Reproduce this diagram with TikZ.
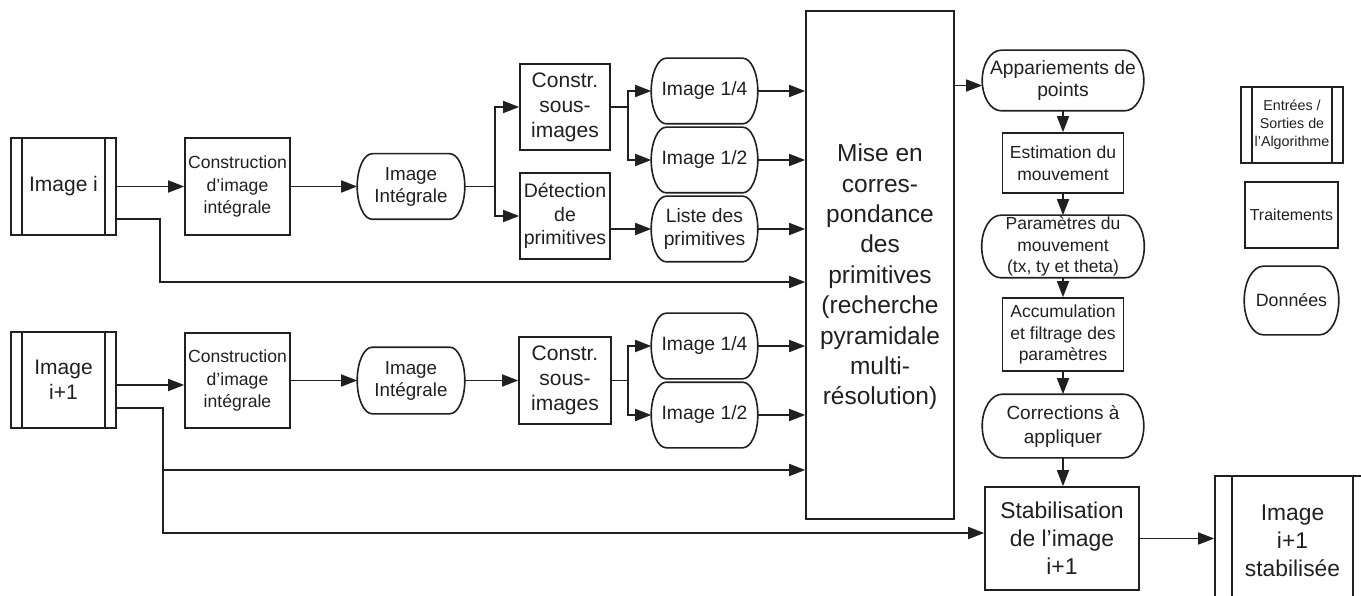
\documentclass[tikz,border=0pt]{standalone}
\usepackage{fontspec}
\setmainfont{Liberation Sans}
\usetikzlibrary{arrows.meta,calc}
\newcommand\fs[2]{\fontsize{#1}{#2}\selectfont}
\definecolor{ink}{HTML}{202020}
\tikzset{
  base/.style={draw=ink, text=ink, line width=1.6pt, inner sep=0pt, align=center},
  proc/.style={base, rectangle},
  data/.style={base, draw=none, rectangle},
  io/.style={base, rectangle,
    path picture={\draw[ink, line width=1.6pt]
      ([xshift=#1]path picture bounding box.north west) -- ([xshift=#1]path picture bounding box.south west)
      ([xshift=-#1]path picture bounding box.north east) -- ([xshift=-#1]path picture bounding box.south east);}},
  io/.default=11pt,
  ln/.style={draw=ink, line width=1.6pt},
  arr/.style={ln, -{Triangle[length=16pt,width=12pt]}},
}
\begin{document}
\begin{tikzpicture}[x=1pt,y=-1pt]
\useasboundingbox (0,0) rectangle (1361,596);
\clip (0,0) rectangle (1361,596);

% top row
\node[io, minimum width=105pt, minimum height=97pt, font=\fs{21}{25}] (imgi) at (63.5,186.5) {Image i};
\node[proc, minimum width=105pt, minimum height=97pt, font=\fs{17.6}{22.5}] (cons1) at (237.5,186.5) {Construction\\d'image\\intégrale};
\node[data, minimum width=106pt, minimum height=64pt, font=\fs{18.8}{22}] (ii1) at (411,186.5) {Image\\Intégrale};
\node[proc, minimum width=90pt, minimum height=86pt, font=\fs{21}{25}] (csi1) at (565,107) {Constr.\\sous-\\images};
\node[proc, minimum width=90pt, minimum height=86pt, font=\fs{19.5}{23.5}] (det) at (565,216) {Détection\\de\\primitives};
\node[data, minimum width=105pt, minimum height=64pt, font=\fs{19.3}{23}] (i14a) at (704.5,91) {Image 1/4};
\node[data, minimum width=105pt, minimum height=64pt, font=\fs{19.3}{23}] (i12a) at (704.5,160) {Image 1/2};
\node[data, minimum width=105pt, minimum height=64pt, font=\fs{19.3}{23}] (liste) at (704.5,229) {Liste des\\primitives};

% bottom row
\node[io, minimum width=105pt, minimum height=96pt, font=\fs{21}{25}] (imgi1) at (63.5,380) {Image\\i+1};
\node[proc, minimum width=105pt, minimum height=95pt, font=\fs{17.6}{22.5}] (cons2) at (237.5,380.5) {Construction\\d'image\\intégrale};
\node[data, minimum width=106pt, minimum height=65pt, font=\fs{18.8}{22}] (ii2) at (411,380.5) {Image\\Intégrale};
\node[proc, minimum width=92pt, minimum height=87pt, font=\fs{21}{25}] (csi2) at (565,380.5) {Constr.\\sous-\\images};
\node[data, minimum width=105pt, minimum height=64pt, font=\fs{19.3}{23}] (i14b) at (704.5,346) {Image 1/4};
\node[data, minimum width=105pt, minimum height=64pt, font=\fs{19.3}{23}] (i12b) at (704.5,415) {Image 1/2};

% matching block
\node[proc, minimum width=148pt, minimum height=508pt] (mise) at (880,265) {};
\node[text=ink, align=center, inner sep=0pt, font=\fs{24.5}{30.4}] (misetxt) at (880,277) {Mise en\\corres-\\pondance\\des\\primitives\\(recherche\\pyramidale\\multi-\\résolution)};

% right column
\node[data, minimum width=160pt, minimum height=59pt, font=\fs{19.3}{22}] (app) at (1063,80.5) {Appariements de\\points};
\node[proc, minimum width=121pt, minimum height=60pt, font=\fs{17.5}{22}] (est) at (1063,163) {Estimation du\\mouvement};
\node[data, minimum width=161pt, minimum height=61pt, font=\fs{17.5}{21.5}] (par) at (1063,246.5) {Paramètres du\\mouvement\\(tx, ty et theta)};
\node[proc, minimum width=121pt, minimum height=73pt, font=\fs{17.5}{21.5}] (acc) at (1063,334.5) {Accumulation\\et filtrage des\\paramètres};
\node[data, minimum width=160pt, minimum height=62pt, font=\fs{19}{24}] (cor) at (1063,426) {Corrections à\\appliquer};
\node[proc, minimum width=154pt, minimum height=103pt, font=\fs{22.9}{28}] (stab) at (1062,538.5) {Stabilisation\\de l'image\\i+1};
\node[io=17pt, minimum width=155pt, minimum height=130pt, font=\fs{22.8}{28}] (out) at (1292.5,541) {Image\\i+1\\stabilisée};

% legend
\node[io, minimum width=102pt, minimum height=76pt, font=\fs{14.3}{18}] (leg1) at (1292,125) {Entrées /\\Sorties de\\l'Algorithme};
\node[proc, minimum width=93pt, minimum height=66pt, font=\fs{15.9}{19}] (leg2) at (1291.5,215) {Traitements};
\node[data, minimum width=93pt, minimum height=67pt, font=\fs{17.8}{21}] (leg3) at (1291.5,300.5) {Données};

% outlines of the data shapes (elliptical ends)
\foreach \nm/\b in {ii1/15,i14a/15,i12a/15,liste/15,ii2/15,i14b/15,i12b/15,app/19,par/19,cor/20,leg3/19}
  \draw[ln] let \p1=(\nm.north west), \p2=(\nm.south east), \n1={(\y1-\y2)/2} in
    (\x1+\b pt,\y1) -- (\x2-\b pt,\y1)
    arc[start angle=90, end angle=-90, x radius=\b pt, y radius={\n1*1pt}]
    -- (\x1+\b pt,\y2)
    arc[start angle=270, end angle=90, x radius=\b pt, y radius={\n1*1pt}]
    -- cycle;

% connectors, top
\draw[arr] (imgi.east) -- (imgi.east -| cons1.west);
\coordinate (j1) at (160,282);
\draw[arr] ([yshift=-32.5pt]imgi.east) -| (j1) -- (mise.west |- j1);
\draw[arr] (cons1.east) -- (cons1.east -| ii1.west);
\path (ii1.east) ++(30,0) coordinate (b1);
\draw[ln] (ii1.east) -- (b1);
\draw[arr] (b1) |- (csi1.west);
\draw[arr] (b1) |- (det.west);
\path (csi1.east) ++(17,0) coordinate (b2);
\draw[ln] (csi1.east) -- (b2);
\draw[arr] (b2) |- (i14a.west);
\draw[arr] (b2) |- (i12a.west);
\draw[arr] (det.east |- liste.west) -- (liste.west);

% connectors, bottom
\draw[arr] ([yshift=-5pt]imgi1.east) -- ([yshift=-5pt]imgi1.east -| cons2.west);
\draw[arr] (cons2.east) -- (cons2.east -| ii2.west);
\draw[arr] (ii2.east) -- (ii2.east -| csi2.west);
\path (csi2.east) ++(16,0) coordinate (b3);
\draw[ln] (csi2.east) -- (b3);
\draw[arr] (b3) |- (i14b.west);
\draw[arr] (b3) |- (i12b.west);
\coordinate (j2) at (163,470);
\coordinate (j3) at (163,533);
\draw[arr] ([yshift=-28pt]imgi1.east) -| (j2) -- (mise.west |- j2);
\draw[arr] (j2) -- (j3) -- (stab.west |- j3);

% into matching block
\foreach \nm in {i14a,i12a,liste,i14b,i12b}
  \draw[arr] (\nm.east) -- (\nm.east -| mise.west);

% right column
\draw[arr] ([yshift=-5pt]app.west -| mise.east) -- ([yshift=-5pt]app.west);
\draw[arr] (app) -- (est);
\draw[arr] (est) -- (par);
\draw[arr] (par) -- (acc);
\draw[arr] (acc) -- (cor);
\draw[arr] (cor.south) -- (cor.south |- stab.north);
\draw[arr] (stab.east) -- (stab.east -| out.west);
\end{tikzpicture}
\end{document}
